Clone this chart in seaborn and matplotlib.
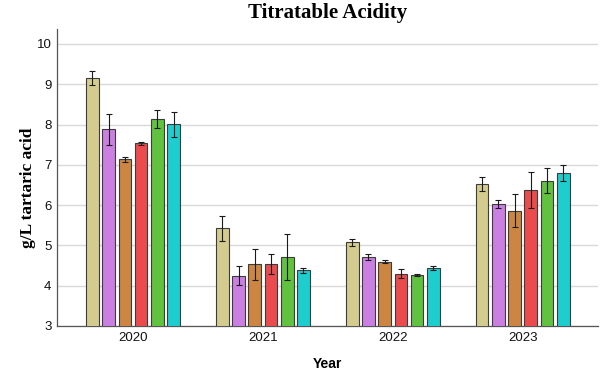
import matplotlib
matplotlib.use("Agg")
import matplotlib.pyplot as plt
import seaborn as sns
import pandas as pd

# Titratable acidity (g/L tartaric acid), mean and error per treatment
years = ["2020", "2021", "2022", "2023"]
treatments = ["T1", "T2", "T3", "T4", "T5", "T6"]
palette = ["#D3CC8E", "#CC7FE2", "#CC8642", "#EC4B4E", "#60C23E", "#1ECDCD"]

mean_2020 = [9.15, 7.88, 7.14, 7.53, 8.14, 8.01]
mean_2021 = [5.43, 4.25, 4.53, 4.54, 4.71, 4.38]
mean_2022 = [5.08, 4.71, 4.60, 4.30, 4.26, 4.44]
mean_2023 = [6.53, 6.03, 5.86, 6.37, 6.61, 6.79]

err_2020 = [0.18, 0.38, 0.06, 0.03, 0.23, 0.31]
err_2021 = [0.31, 0.24, 0.38, 0.24, 0.57, 0.06]
err_2022 = [0.09, 0.07, 0.03, 0.12, 0.03, 0.04]
err_2023 = [0.17, 0.09, 0.41, 0.44, 0.30, 0.20]

rows = []
for yr, m, e in zip(years, [mean_2020, mean_2021, mean_2022, mean_2023],
                    [err_2020, err_2021, err_2022, err_2023]):
    for t, mv, ev in zip(treatments, m, e):
        rows.append({"Year": yr, "Treatment": t, "TA": mv, "err": ev})
df = pd.DataFrame(rows)

sns.set_theme(style="white")
plt.rcParams["font.family"] = ["Liberation Sans", "DejaVu Sans"]
plt.rcParams["text.color"] = "black"
plt.rcParams["axes.labelcolor"] = "black"

fig = plt.figure(figsize=(6.04, 3.76), dpi=100)
ax = fig.add_axes([57 / 604, 50 / 376, (598 - 57) / 604, (326 - 29) / 376])

sns.barplot(data=df, x="Year", y="TA", hue="Treatment", order=years,
            hue_order=treatments, palette=palette, width=0.75, gap=0.22,
            errorbar=None, edgecolor="#3c3c3c", linewidth=0.8, saturation=1,
            legend=False, ax=ax, zorder=3)

# error bars centred on each drawn bar
for t, cont in zip(treatments, ax.containers):
    sub = df[df["Treatment"] == t].set_index("Year").loc[years]
    for bar, ev in zip(cont.patches, sub["err"]):
        cx = bar.get_x() + bar.get_width() / 2
        ax.errorbar(cx, bar.get_height(), yerr=ev, fmt="none",
                    ecolor="#1a1a1a", elinewidth=0.8, capsize=2.5,
                    capthick=0.8, zorder=4)

ax.set_ylim(3, 10.37)
ax.set_xlim(-0.585, 3.58)
ax.set_yticks(range(3, 11))
ax.yaxis.grid(True, color="#d9d9d9", linewidth=1.0, zorder=0)
ax.xaxis.grid(False)
ax.set_axisbelow(True)
for s in ["top", "right"]:
    ax.spines[s].set_visible(False)
for s in ["left", "bottom"]:
    ax.spines[s].set_color("#555555")
    ax.spines[s].set_linewidth(0.9)
ax.tick_params(axis="both", which="both", length=0, labelsize=9.5,
               colors="#111111", pad=4)

ax.set_xlabel("Year", fontsize=10, fontweight="bold", labelpad=10)
ax.set_ylabel("g/L tartaric acid", fontsize=12.5, fontweight="bold",
              family=["Liberation Serif", "DejaVu Serif"])
ax.yaxis.set_label_coords(-0.039, 0.465)
ax.set_title("Titratable Acidity", fontsize=15, fontweight="bold",
             family=["Liberation Serif", "DejaVu Serif"], pad=8,
             color="black")

fig.savefig("out.png", dpi=100)
